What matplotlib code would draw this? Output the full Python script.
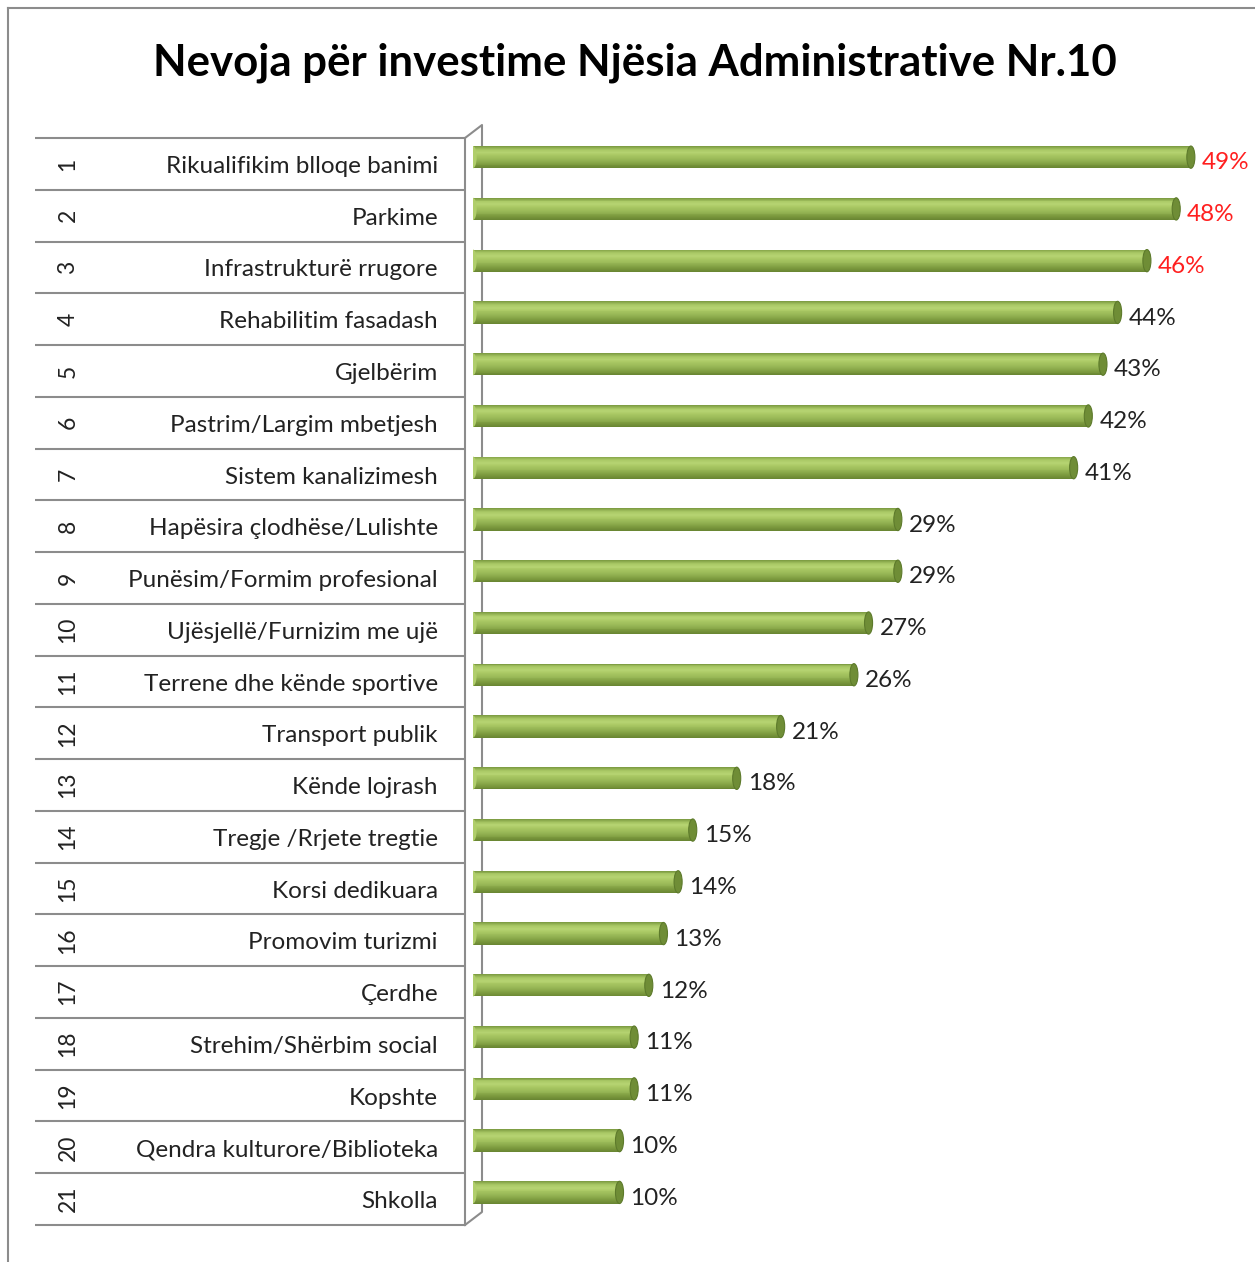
import numpy as np
import matplotlib
matplotlib.use('Agg')
import matplotlib.pyplot as plt
from matplotlib.patches import Ellipse
from matplotlib.lines import Line2D
from matplotlib.colors import to_rgb

plt.rcParams['font.family'] = ['Lato', 'DejaVu Sans']

categories = ['Rikualifikim blloqe banimi', 'Parkime', 'Infrastrukturë rrugore',
              'Rehabilitim fasadash', 'Gjelbërim', 'Pastrim/Largim mbetjesh',
              'Sistem kanalizimesh', 'Hapësira çlodhëse/Lulishte',
              'Punësim/Formim profesional', 'Ujësjellë/Furnizim me ujë',
              'Terrene dhe kënde sportive', 'Transport publik', 'Kënde lojrash',
              'Tregje /Rrjete tregtie', 'Korsi dedikuara', 'Promovim turizmi',
              'Çerdhe', 'Strehim/Shërbim social', 'Kopshte',
              'Qendra kulturore/Biblioteka', 'Shkolla']
ranks = list(range(1, 22))
values = [49, 48, 46, 44, 43, 42, 41, 29, 29, 27, 26, 21, 18, 15, 14, 13, 12, 11, 11, 10, 10]
highlight = [True, True, True] + [False] * 18

W, H = 1255, 1262
fig = plt.figure(figsize=(W / 100, H / 100), dpi=100)

def fx(px):
    return px / W

def fy(py):
    return 1 - py / H

top_px, bot_px = 138, 1225
n = len(values)

# frame of the chart area
fig.add_artist(Line2D([fx(8), fx(8)], [fy(8), 0], color='#8c8c8c', lw=1.5))
fig.add_artist(Line2D([fx(8), 1], [fy(8), fy(8)], color='#8c8c8c', lw=1.5))

fig.text(fx(635), fy(63), 'Nevoja për investime Njësia Administrative Nr.10',
         ha='center', va='center', fontsize=31.5, fontweight='bold')

# left table with row numbers and names
tab = fig.add_axes([fx(0), fy(bot_px), fx(500), (bot_px - top_px) / H])
tab.set_xlim(0, 500)
tab.set_ylim(n, 0)
tab.axis('off')
grey = '#8c8c8c'
for i in range(n + 1):
    tab.plot([35, 465], [i, i], color=grey, lw=1.5, solid_capstyle='butt', clip_on=False)
d = 13 / ((bot_px - top_px) / n)
tab.plot([465, 465], [0, n], color=grey, lw=1.5, clip_on=False)
tab.plot([465, 482, 482, 465], [0, -d, n - d, n], color=grey, lw=1.5, clip_on=False)
for i, (r, c) in enumerate(zip(ranks, categories)):
    tab.text(68, i + 0.5, str(r), rotation=90, ha='center', va='center', fontsize=16.5, color='#222222')
    tab.text(438, i + 0.55, c, ha='right', va='center', fontsize=17.5, color='#222222')

# bar axes
x0_px, ppu = 473, 14.65
ax = fig.add_axes([fx(x0_px), fy(bot_px), 1 - fx(x0_px), (bot_px - top_px) / H])
ax.set_xlim(0, (W - x0_px) / ppu)
ax.set_ylim(n, 0)
ax.axis('off')

ys = np.arange(n) + 0.5 - 0.13
h = 0.43
stops = ['#7f9e44', '#a9c865', '#b6d472', '#a8c662', '#9bbb59', '#8cab4c', '#7a983d', '#6a8733']
m = 24
cols = []
for k in range(m):
    t = k / (m - 1) * (len(stops) - 1)
    j = min(int(t), len(stops) - 2)
    f = t - j
    a, b = np.array(to_rgb(stops[j])), np.array(to_rgb(stops[j + 1]))
    cols.append(a * (1 - f) + b * f)

for y, v, hl in zip(ys, values, highlight):
    for k in range(m):
        yy = y - h / 2 + (k + 0.5) * h / m
        ax.barh(yy, v, height=h / m * 1.05, left=0, color=cols[k], lw=0)
    ax.add_patch(Ellipse((0, y), 0.5, h, color=cols[m // 3], lw=0))
    ax.add_patch(Ellipse((v, y), 0.55, h, facecolor='#6f8d36', edgecolor='#5d7a2b', lw=0.8))
    ax.text(v + 0.75, y + 0.11, f'{v}%', ha='left', va='center', fontsize=17.5,
            color='#ff1f1f' if hl else '#222222')

fig.savefig('out.png', dpi=100)
